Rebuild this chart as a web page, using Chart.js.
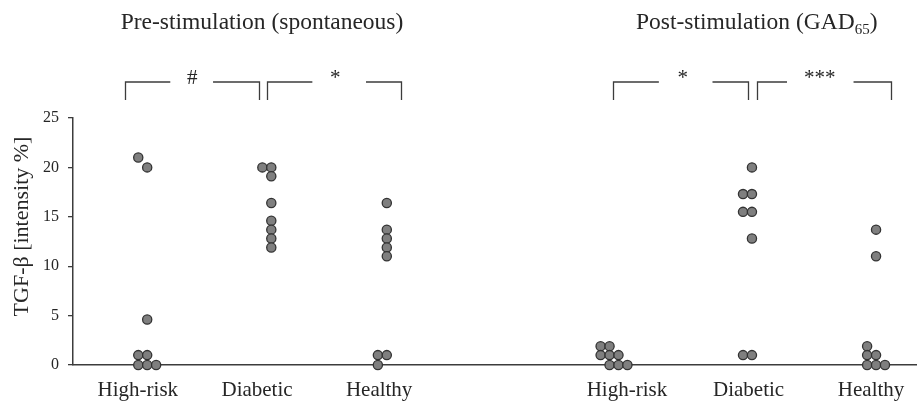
<!DOCTYPE html>
<html lang="en">
<head>
<meta charset="UTF-8">
<title>TGF-β intensity</title>
<script src="https://cdn.jsdelivr.net/npm/chart.js"></script>
<style>
  body { margin: 0; background: #fff; }
</style>
</head>
<body>
<canvas id="tgfChart" width="922" height="402"></canvas>
<script>
// groups along the x axis (pre: 0-3, post: 3-6)
const groups = ['High-risk', 'Diabetic', 'Healthy', 'High-risk', 'Diabetic', 'Healthy'];
// centre of each dot column and of each group label, on a 0-100 x scale
const groupX = [8.8, 23.52, 37.22, 63.64, 80.53, 95.25];
const labelX = [7.69, 21.83, 36.31, 65.70, 80.13, 94.66];

// TGF-β intensity (%) for each subject
const preHighRisk  = [21, 20, 4.6, 1, 1, 0, 0, 0];
const preDiabetic  = [20, 20, 19.1, 16.4, 14.6, 13.7, 12.8, 11.9];
const preHealthy   = [16.4, 13.7, 12.8, 11.9, 11.0, 1, 1, 0];
const postHighRisk = [1.9, 1.9, 1, 1, 1, 0, 0, 0];
const postDiabetic = [20, 17.3, 17.3, 15.5, 15.5, 12.8, 1, 1];
const postHealthy  = [13.7, 11.0, 1.9, 1, 1, 0, 0, 0];

// side-by-side column of each dot where values collide
const preHighRiskCol  = [-1, 0, 0, -1, 0, -1, 0, 1];
const preDiabeticCol  = [-1, 0, 0, 0, 0, 0, 0, 0];
const preHealthyCol   = [0, 0, 0, 0, 0, -1, 0, -1];
const postHighRiskCol = [-1, 0, -1, 0, 1, 0, 1, 2];
const postDiabeticCol = [0, -1, 0, -1, 0, 0, -1, 0];
const postHealthyCol  = [0, 0, -1, -1, 0, -1, 0, 1];

const series = [preHighRisk, preDiabetic, preHealthy, postHighRisk, postDiabetic, postHealthy];
const columns = [preHighRiskCol, preDiabeticCol, preHealthyCol, postHighRiskCol, postDiabeticCol, postHealthyCol];
const colWidth = 1.06;

// panel headings and significance brackets (x in scale units)
const panelTitles = [
  { x: 22.42, text: 'Pre-stimulation (spontaneous)' },
  { x: 81.10, text: 'Post-stimulation (GAD', sub: '65', tail: ')' }
];
const brackets = [
  { from: 6.12,  to: 22.03, gapFrom: 11.54, gapTo: 16.61, markX: 14.13, mark: '#' },
  { from: 22.97, to: 38.87, gapFrom: 28.39, gapTo: 34.75, markX: 31.10, mark: '*' },
  { from: 64.08, to: 80.09, gapFrom: 69.49, gapTo: 75.85, markX: 72.32, mark: '*' },
  { from: 81.15, to: 97.06, gapFrom: 84.69, gapTo: 92.58, markX: 88.58, mark: '***' }
];

const serif = "'Liberation Serif', 'Times New Roman', serif";
const ink = '#262626';
const axisColor = '#3c3c3c';

const datasets = series.map((vals, g) => ({
  data: vals.map((v, i) => ({ x: groupX[g] + columns[g][i] * colWidth, y: v })),
  backgroundColor: '#7f7f7f',
  borderColor: '#333333',
  pointRadius: 4.6,
  pointBorderWidth: 1.3,
  clip: false
}));

const annotations = {
  id: 'annotations',
  afterDraw(chart) {
    const ctx = chart.ctx;
    const xs = chart.scales.x;
    const top = chart.chartArea.top;
    const big = `23.5px ${serif}`;
    const small = `15px ${serif}`;
    ctx.save();
    ctx.fillStyle = ink;

    // panel headings
    ctx.textBaseline = 'alphabetic';
    ctx.textAlign = 'left';
    panelTitles.forEach(t => {
      ctx.font = big;
      const w1 = ctx.measureText(t.text).width;
      let w2 = 0, w3 = 0;
      if (t.sub) {
        w3 = ctx.measureText(t.tail).width;
        ctx.font = small;
        w2 = ctx.measureText(t.sub).width;
      }
      let x = xs.getPixelForValue(t.x) - (w1 + w2 + w3) / 2;
      ctx.font = big;
      ctx.fillText(t.text, x, 29);
      if (t.sub) {
        x += w1;
        ctx.font = small;
        ctx.fillText(t.sub, x, 34);
        x += w2;
        ctx.font = big;
        ctx.fillText(t.tail, x, 29);
      }
    });

    // significance brackets
    const yTop = top - 36, yBot = top - 18;
    ctx.strokeStyle = axisColor;
    ctx.lineWidth = 1.3;
    brackets.forEach(b => {
      const x0 = Math.round(xs.getPixelForValue(b.from)) + 0.5;
      const x1 = Math.round(xs.getPixelForValue(b.to)) + 0.5;
      const g0 = xs.getPixelForValue(b.gapFrom);
      const g1 = xs.getPixelForValue(b.gapTo);
      ctx.beginPath();
      ctx.moveTo(x0, yBot); ctx.lineTo(x0, yTop); ctx.lineTo(g0, yTop);
      ctx.moveTo(g1, yTop); ctx.lineTo(x1, yTop); ctx.lineTo(x1, yBot);
      ctx.stroke();
      ctx.font = `21px ${serif}`;
      ctx.textAlign = 'center';
      ctx.fillText(b.mark, xs.getPixelForValue(b.markX), yTop + 2);
    });

    // y axis title
    ctx.translate(22, 226.5);
    ctx.rotate(-Math.PI / 2);
    ctx.font = `22px ${serif}`;
    ctx.textAlign = 'center';
    ctx.textBaseline = 'middle';
    ctx.fillText('TGF-β [intensity %]', 0, 0);
    ctx.restore();
  }
};

new Chart(document.getElementById('tgfChart'), {
  type: 'scatter',
  data: { datasets },
  options: {
    responsive: false,
    animation: false,
    devicePixelRatio: 1,
    layout: { padding: { top: 118, left: 0, right: 0, bottom: 0 } },
    plugins: { legend: { display: false }, tooltip: { enabled: false } },
    scales: {
      x: {
        type: 'linear',
        min: 0,
        max: 100,
        afterFit: s => { s.height = 37; },
        afterBuildTicks: s => { s.ticks = labelX.map(v => ({ value: v })); },
        grid: { display: false },
        border: { display: true, color: axisColor, width: 1.5 },
        ticks: {
          autoSkip: false,
          maxRotation: 0,
          padding: 5,
          color: ink,
          font: { family: serif, size: 21 },
          callback: (v, i) => groups[i]
        }
      },
      y: {
        min: 0,
        max: 25,
        afterFit: s => { s.width = 73; },
        grid: { display: true, drawOnChartArea: false, drawTicks: true, tickLength: 5, color: axisColor, lineWidth: 1.3 },
        border: { display: true, color: axisColor, width: 1.5 },
        ticks: {
          stepSize: 5,
          padding: 9,
          color: ink,
          font: { family: serif, size: 16 }
        }
      }
    }
  },
  plugins: [annotations]
});
</script>
</body>
</html>
